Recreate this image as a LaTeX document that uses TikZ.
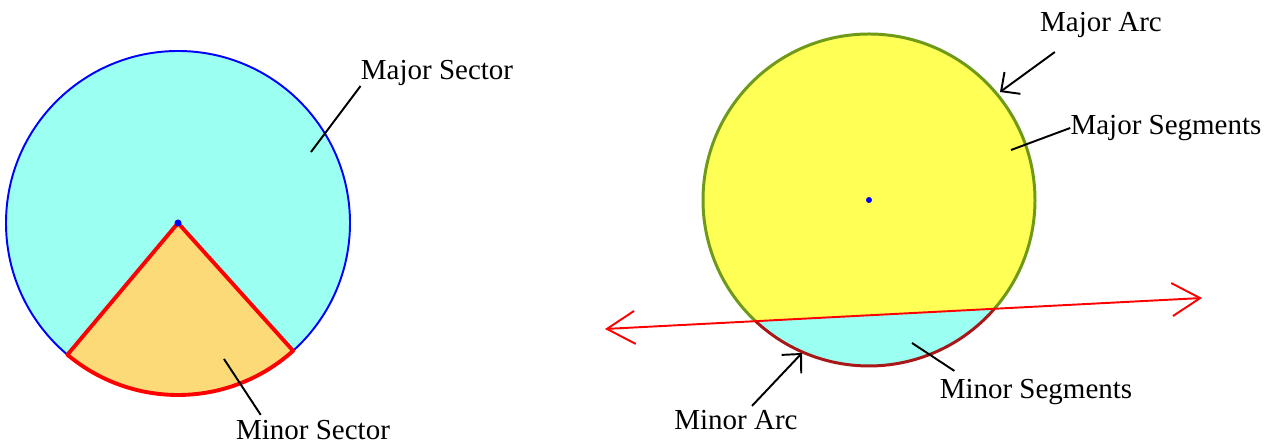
\documentclass[tikz,border=0pt]{standalone}
\usepackage{fontspec}
\setmainfont{Liberation Serif}
\usetikzlibrary{arrows.meta,calc}
\definecolor{sectfill}{HTML}{9BFFF2}
\definecolor{minfill}{HTML}{FCDA78}
\definecolor{segfill}{HTML}{FFFF55}
\definecolor{majarc}{HTML}{6E9A18}
\definecolor{minarc}{HTML}{A81818}

\begin{document}
\begin{tikzpicture}[
  x=0.2mm, y=0.2mm,
  lbl/.style={
    inner sep=0pt,
    font=\fontsize{16.5}{19}\selectfont
  },
  pointer/.style={black, line width=1.1pt},
  arcarrow/.style={pointer, -{Straight Barb[length=2.8mm,width=5.4mm,line width=1.1pt]}},
  secant/.style={red, line width=1.1pt,
    {Straight Barb[length=5.6mm,width=6.6mm,line width=1.1pt]}-{Straight Barb[length=5.6mm,width=6.6mm,line width=1.1pt]}}
]
  \useasboundingbox (0,0) rectangle (1274,444);

  % left circle: sectors
  \coordinate (c1) at (178,221);
  \fill[sectfill] (c1) circle (172);
  \draw[blue, line width=1.1pt] (c1) circle (172);
  \fill[minfill] (c1) -- ++(230:172) arc (230:312:172) -- cycle;
  \draw[red, line width=2.2pt, line join=round] (c1) -- ++(230:172) arc (230:312:172) -- cycle;
  \fill[blue] (c1) circle (3.5);

  \node[lbl] (majsec) at (437,371) {Major Sector};
  \node[lbl] (minsec) at (313,14) {Minor Sector};
  \coordinate (majsecpt) at (311,292);
  \coordinate (minsecpt) at (224,85);
  \draw[pointer] (majsec.south west) -- (majsecpt);
  \draw[pointer] ($(minsec.north west)+(25,5)$) -- (minsecpt);

  % right circle: segments
  \coordinate (c2) at (869,244);
  \coordinate (pl) at ($(c2)+(226.7:166)$);
  \coordinate (pr) at ($(c2)+(-41:166)$);
  \coordinate (lt) at (605,115);
  \coordinate (rt) at (1202,146);
  \fill[segfill] (c2) circle (166);
  \fill[sectfill] (pl) arc (226.7:319:166) -- cycle;
  \draw[majarc, line width=1.7pt] (pr) arc (-41:226.7:166);
  \draw[minarc, line width=1.7pt] (pl) arc (226.7:319:166);
  \draw[secant] (lt) -- (rt);
  \fill[blue] (c2) circle (3);

  \node[lbl] (majarcl) at (1101,419) {Major Arc};
  \node[lbl] (majseg) at (1166,316) {Major Segments};
  \node[lbl] (minseg) at (1036,52) {Minor Segments};
  \node[lbl] (minarcl) at (736,24) {Minor Arc};
  \coordinate (majarcpt) at (1000,352);
  \coordinate (majsegpt) at (1011,294);
  \coordinate (minsegpt) at (912,101);
  \coordinate (minarcpt) at (802,91);
  \draw[arcarrow] ($(majarcl.south west)+(15,-14)$) -- (majarcpt);
  \draw[pointer] (majseg.west) -- (majsegpt);
  \draw[pointer] ($(minseg.north west)+(15,8)$) -- (minsegpt);
  \draw[arcarrow] ($(minarcl.north)+(16,4)$) -- (minarcpt);
\end{tikzpicture}
\end{document}
